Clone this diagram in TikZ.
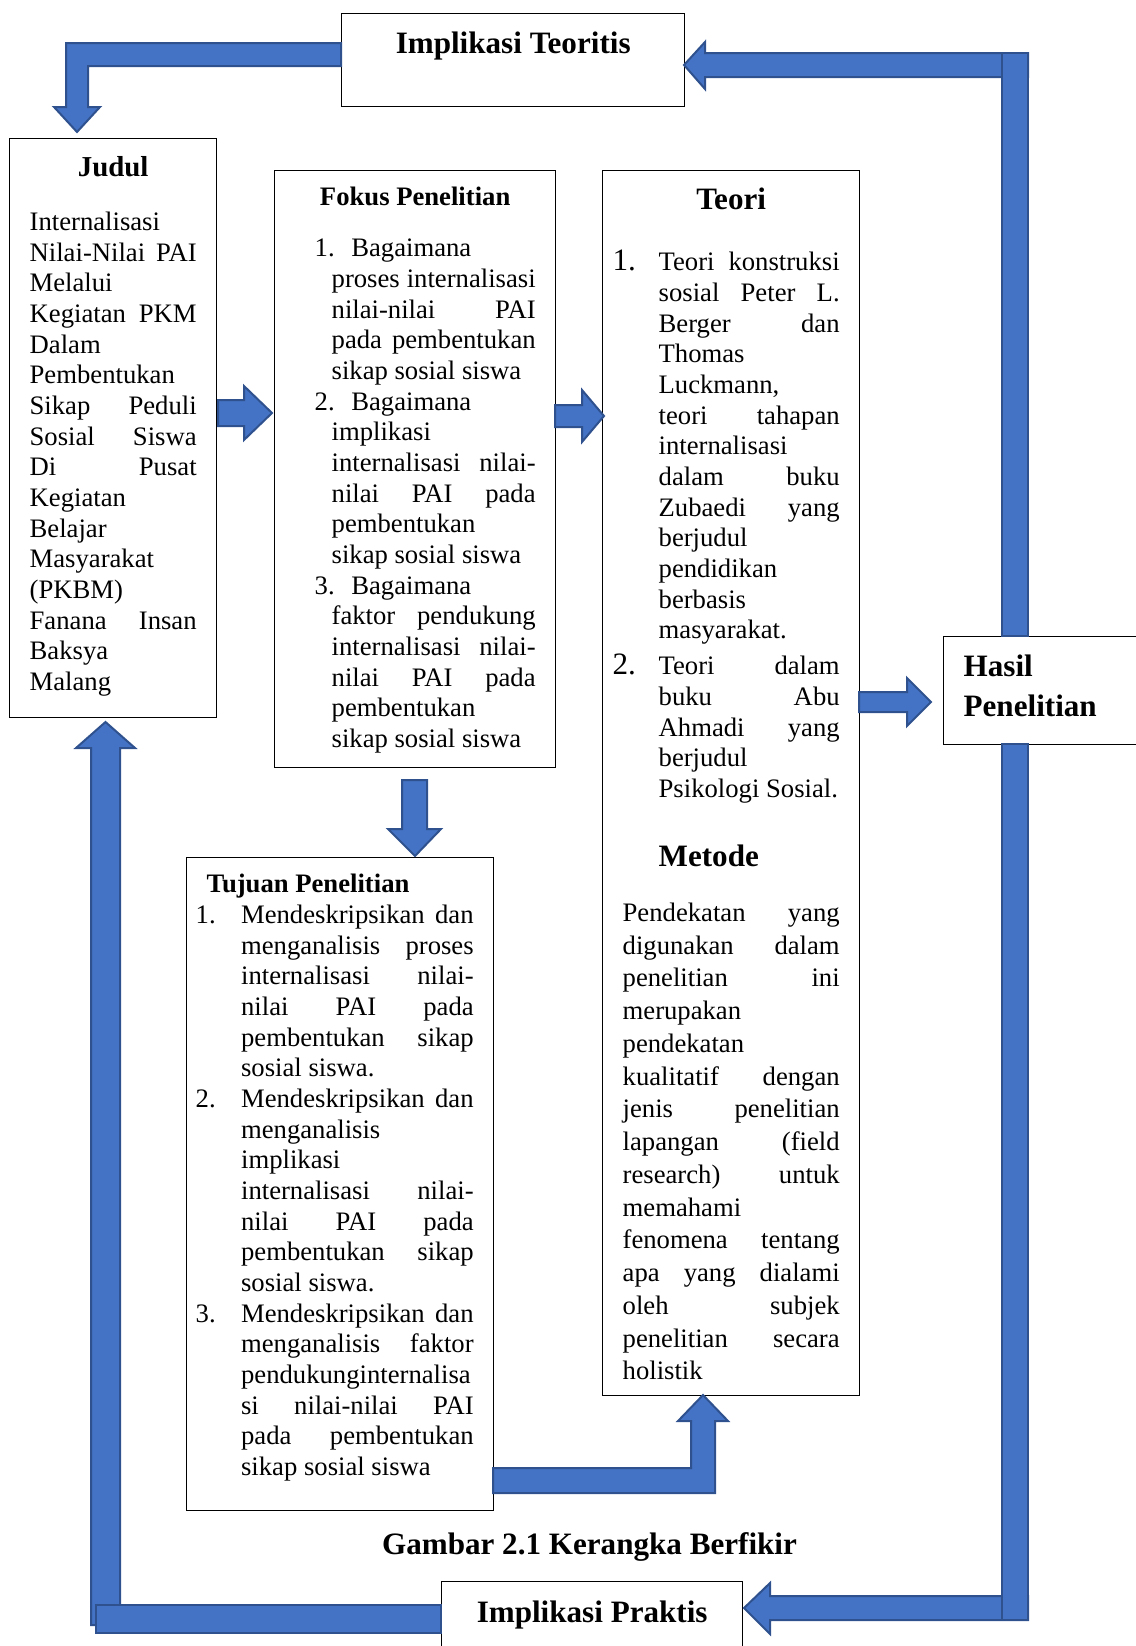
\documentclass[tikz,border=0pt]{standalone}
\usepackage{fontspec}
\setmainfont{Liberation Serif}[Ligatures=NoCommon]
\definecolor{biru}{HTML}{4472C4}
\definecolor{birutua}{HTML}{2F528F}
\tolerance=10000
\hbadness=10000
\hyphenpenalty=10000
\newcommand{\butir}[3]{\par\noindent\hspace*{-#1}\makebox[#2][l]{#3}}
\tikzset{
  kotak/.style={draw, line width=0.6pt, fill=white, anchor=north west, inner xsep=9pt, inner ysep=0pt, align=justify, font=\fontsize{12}{13.8}\selectfont},
  judulkotak/.style={draw, line width=0.6pt, fill=white, anchor=north west, inner sep=0pt, align=center, font=\bfseries\fontsize{14}{16}\selectfont},
  blok/.style={fill=biru, draw=birutua, line width=0.9pt, line join=miter}
}
\begin{document}
\begin{tikzpicture}[x=0.45pt, y=-0.45pt]
\useasboundingbox (0,0) rectangle (1135,1646);

\node[judulkotak, minimum width=154.35pt, text height=18pt, text depth=23.85pt] (teoritis) at (341,13) {Implikasi Teoritis};

\node[kotak, text width=75.15pt, text height=17.15pt, text depth=243.4pt] (judul) at (9,138)
{{\centering\bfseries\fontsize{13}{15}\selectfont Judul\par}\vskip10.3pt
Internalisasi\linebreak
Nilai-Nilai PAI\linebreak
Melalui\linebreak
Kegiatan PKM\linebreak
Dalam\linebreak
Pembentukan\linebreak
Sikap Peduli\linebreak
Sosial Siswa\linebreak
Di Pusat\linebreak
Kegiatan\linebreak
Belajar\linebreak
Masyarakat\linebreak
(PKBM)\linebreak
Fanana Insan\linebreak
Baksya\linebreak
Malang\par};

\node[kotak, text width=108.45pt, text height=15.8pt, text depth=252.85pt] (fokus) at (274,170)
{{\centering\bfseries Fokus Penelitian\par}\vskip9.15pt
\leftskip=16.65pt
\butir{7.65pt}{16.5pt}{1.}Bagaimana\linebreak
proses internalisasi\linebreak
nilai-nilai PAI\linebreak
pada pembentukan\linebreak
sikap sosial siswa
\butir{7.65pt}{16.5pt}{2.}Bagaimana\linebreak
implikasi\linebreak
internalisasi nilai-\linebreak
nilai PAI pada\linebreak
pembentukan\linebreak
sikap sosial siswa
\butir{7.65pt}{16.5pt}{3.}Bagaimana\linebreak
faktor pendukung\linebreak
internalisasi nilai-\linebreak
nilai PAI pada\linebreak
pembentukan\linebreak
sikap sosial siswa\par};

\node[kotak, text width=97.65pt, text height=17.6pt, text depth=533.65pt] (teori) at (602,170)
{{\centering\bfseries\fontsize{14}{16}\selectfont Teori\par}\vskip13.7pt
\leftskip=16.2pt
\butir{20.7pt}{20.7pt}{\fontsize{14}{16}\selectfont 1.}Teori konstruksi\linebreak
sosial Peter L.\linebreak
Berger dan\linebreak
Thomas\linebreak
Luckmann,\linebreak
teori tahapan\linebreak
internalisasi\linebreak
dalam buku\linebreak
Zubaedi yang\linebreak
berjudul\linebreak
pendidikan\linebreak
berbasis\linebreak
masyarakat.\par
\vskip2.3pt
\butir{20.7pt}{20.7pt}{\fontsize{14}{16}\selectfont 2.}Teori dalam\linebreak
buku Abu\linebreak
Ahmadi yang\linebreak
berjudul\linebreak
Psikologi Sosial.\par
\vskip15.2pt
{\bfseries\fontsize{14}{16}\selectfont Metode\par}
\vskip9.85pt
\leftskip=0pt
\fontsize{12}{14.74}\selectfont
Pendekatan yang\linebreak
digunakan dalam\linebreak
penelitian ini\linebreak
merupakan\linebreak
pendekatan\linebreak
kualitatif dengan\linebreak
jenis penelitian\linebreak
lapangan (field\linebreak
research) untuk\linebreak
memahami\linebreak
fenomena tentang\linebreak
apa yang dialami\linebreak
oleh subjek\linebreak
penelitian secara\linebreak
holistik\par};

\node[kotak, text width=120.15pt, text height=15.8pt, text depth=278.05pt] (tujuan) at (186,857)
{{\bfseries Tujuan Penelitian\par}
\leftskip=15.5pt
\butir{20.45pt}{20.45pt}{1.}Mendeskripsikan dan\linebreak
menganalisis proses\linebreak
internalisasi nilai-\linebreak
nilai PAI pada\linebreak
pembentukan sikap\linebreak
sosial siswa.
\butir{20.45pt}{20.45pt}{2.}Mendeskripsikan dan\linebreak
menganalisis\linebreak
implikasi\linebreak
internalisasi nilai-\linebreak
nilai PAI pada\linebreak
pembentukan sikap\linebreak
sosial siswa.
\butir{20.45pt}{20.45pt}{3.}Mendeskripsikan dan\linebreak
menganalisis faktor\linebreak
pendukunginternalisa\linebreak
si nilai-nilai PAI\linebreak
pada pembentukan\linebreak
sikap sosial siswa\par};

\node[kotak, align=left, font=\bfseries\fontsize{14}{18}\selectfont, text width=88.65pt, text height=18.05pt, text depth=30.55pt] (hasil) at (943,636) {Hasil\\Penelitian};

\node[judulkotak, minimum width=135.45pt, text height=18.45pt, text depth=40pt] (praktis) at (441,1581) {Implikasi Praktis};

\node[anchor=base, font=\bfseries\fontsize{14}{16}\selectfont] (keterangan) at (589.5,1554) {Gambar 2.1 Kerangka Berfikir};

\draw[blok] (341,43) -- (66,43) -- (66,107) -- (54,107) -- (77,132) -- (100,107) -- (88,107) -- (88,66) -- (341,66) -- cycle;
\draw[blok] (1028,53) -- (705,53) -- (705,42) -- (684,65) -- (705,89) -- (705,77) -- (1028,77) -- cycle;
\draw[blok] (1002,53) rectangle (1028,636);
\draw[blok] (1028,1596) -- (770,1596) -- (770,1583) -- (744,1608) -- (770,1634) -- (770,1620) -- (1028,1620) -- cycle;
\draw[blok] (1002,744) rectangle (1028,1620);
\draw[blok] (91,1625) -- (91,748) -- (76,748) -- (105.5,722) -- (135,748) -- (120,748) -- (120,1625) -- cycle;
\draw[blok] (96,1605) rectangle (441,1633);
\draw[blok] (218,400) -- (244,400) -- (244,386) -- (272,413) -- (244,440) -- (244,426) -- (218,426) -- cycle;
\draw[blok] (555,405) -- (582,405) -- (582,390) -- (604,416) -- (582,442) -- (582,427) -- (555,427) -- cycle;
\draw[blok] (402,780) -- (402,829) -- (388,829) -- (415,856) -- (441,829) -- (427,829) -- (427,780) -- cycle;
\draw[blok] (859,692) -- (907,692) -- (907,678) -- (931,702) -- (907,726) -- (907,712) -- (859,712) -- cycle;
\draw[blok] (493,1468) -- (691,1468) -- (691,1421) -- (678,1421) -- (703,1395) -- (728,1421) -- (715,1421) -- (715,1493) -- (493,1493) -- cycle;
\end{tikzpicture}
\end{document}
